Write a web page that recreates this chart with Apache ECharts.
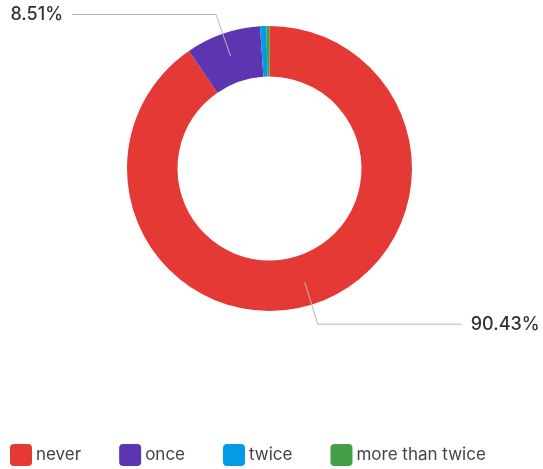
<!DOCTYPE html>
<html>
<head>
<meta charset="utf-8">
<script src="https://cdn.jsdelivr.net/npm/echarts@6/dist/echarts.min.js"></script>
<style>html,body{margin:0;padding:0;background:#fff;}#c{width:543px;height:469px;}</style>
</head>
<body>
<div id="c"></div>
<script>
var categories = ['never', 'once', 'twice', 'more than twice'];
var values = [90.43, 8.51, 0.71, 0.35];
var colors = ['#E53935', '#5E35B1', '#039BE5', '#43A047'];
var labelShown = [true, true, false, false];

var chart = echarts.init(document.getElementById('c'), null, {renderer: 'canvas'});
var ringData = categories.map(function (c, i) {
  return {name: c, value: values[i], itemStyle: {color: colors[i]}};
});
var labelData = categories.map(function (c, i) {
  return {
    name: c, value: values[i],
    itemStyle: {color: 'rgba(0,0,0,0)'},
    label: {show: labelShown[i]},
    labelLine: {show: labelShown[i]}
  };
});
var rr = 'path://M4,0H18A4,4 0 0 1 22,4V18A4,4 0 0 1 18,22H4A4,4 0 0 1 0,18V4A4,4 0 0 1 4,0Z';
chart.setOption({
  animation: false,
  legend: {
    left: 5, top: 439,
    itemWidth: 22, itemHeight: 22, itemGap: 38,
    icon: rr,
    selectedMode: false,
    textStyle: {fontFamily: 'Inter', fontSize: 17, color: '#444', padding: [0, 0, 0, -1]},
    data: categories.map(function (c, i) { return {name: c, itemStyle: {color: colors[i]}}; })
  },
  series: [
    {
      type: 'pie',
      name: 'ring',
      center: [269.5, 168.5],
      radius: [92, 142.5],
      startAngle: 90,
      clockwise: true,
      silent: true,
      label: {show: false},
      labelLine: {show: false},
      itemStyle: {borderWidth: 0},
      emphasis: {disabled: true},
      data: ringData
    },
    {
      type: 'pie',
      name: 'labels',
      left: -100, right: -100, top: -100, bottom: -100,
      center: [369.5, 268.5],
      radius: [0, 119],
      startAngle: 90,
      clockwise: true,
      silent: true,
      avoidLabelOverlap: false,
      z: 5,
      emphasis: {disabled: true},
      label: {
        show: true,
        formatter: function (p) { return p.value.toFixed(2) + '%'; },
        fontFamily: 'Inter', fontSize: 18, fontWeight: 500, color: '#333',
        distanceToLabelLine: 9
      },
      labelLine: {
        show: true, length: 44, length2: 144,
        lineStyle: {color: '#b8b8b8', width: 1}
      },
      data: labelData
    }
  ]
});
</script>
</body>
</html>
